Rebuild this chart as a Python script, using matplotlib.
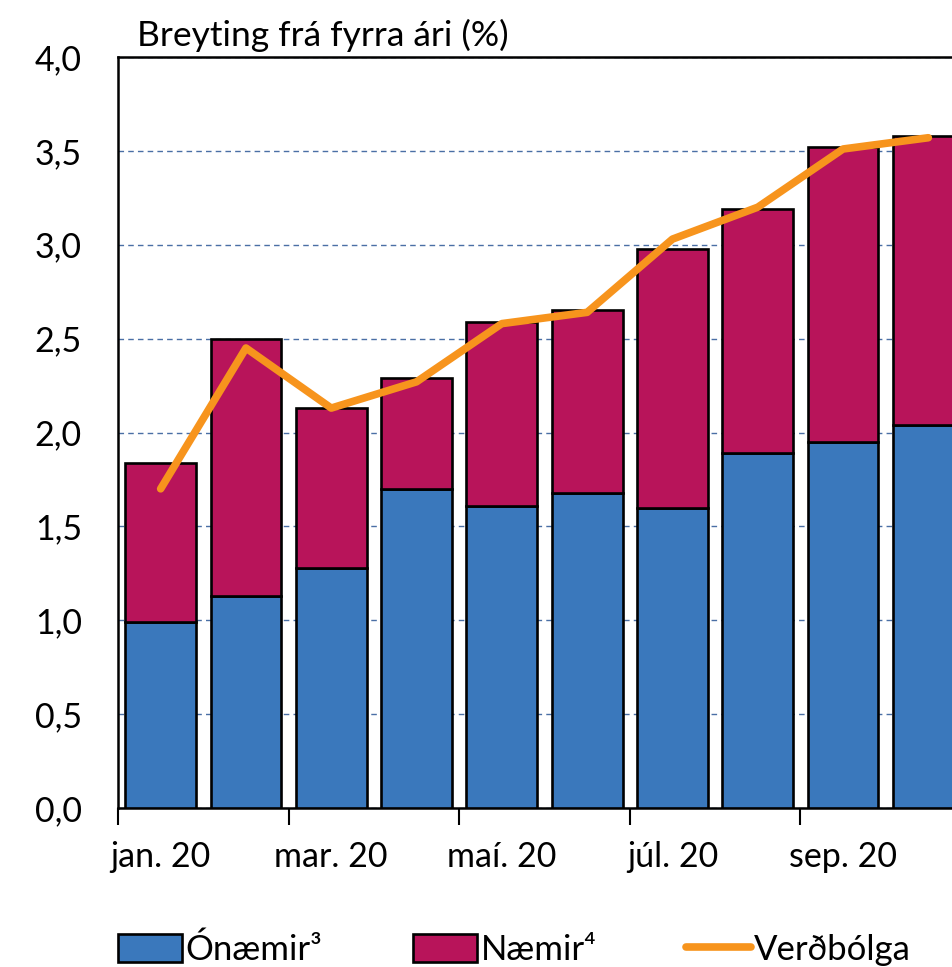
import matplotlib
matplotlib.use("Agg")
import matplotlib.pyplot as plt
import numpy as np

# Data (2020, monthly)
months = ["jan", "feb", "mar", "apr", "maí", "jún", "júl", "ágú", "sep", "okt"]
onaemir = [0.99, 1.13, 1.28, 1.70, 1.61, 1.68, 1.60, 1.89, 1.95, 2.04]
naemir_top = [1.84, 2.50, 2.13, 2.29, 2.59, 2.65, 2.98, 3.19, 3.52, 3.58]
verdbolga = [1.70, 2.45, 2.13, 2.27, 2.58, 2.64, 3.03, 3.20, 3.51, 3.57]
xlabels = ["jan. 20", "mar. 20", "maí. 20", "júl. 20", "sep. 20"]
yticks = [0.0, 0.5, 1.0, 1.5, 2.0, 2.5, 3.0, 3.5, 4.0]

naemir = [t - b for t, b in zip(naemir_top, onaemir)]

plt.rcParams['font.family'] = ['Lato', 'DejaVu Sans']

blue = "#3A78BC"
red = "#B8145A"
orange = "#F7941D"
gridc = "#4A6FA5"
fs = 24.5

fig = plt.figure(figsize=(9.52, 9.67), dpi=100)
# axes run past the right edge of the picture (reference is cropped there)
ax = fig.add_axes([118/952, 1 - 808/967, 12*85.3/952, (808 - 57)/967])

x = np.arange(len(months))
b1 = ax.bar(x, onaemir, width=0.83, color=blue, edgecolor="black", linewidth=1.9, label="Ónæmir³", zorder=3)
b2 = ax.bar(x, naemir, width=0.83, bottom=onaemir, color=red, edgecolor="black", linewidth=1.9, label="Næmir⁴", zorder=3)
l1, = ax.plot(x, verdbolga, color=orange, linewidth=5.5, solid_capstyle="round", label="Verðbólga", zorder=4)

ax.set_xlim(-0.5, 11.5)
ax.set_ylim(0, 4)
ax.set_yticks(yticks)
ax.set_yticklabels([("%.1f" % v).replace(".", ",") for v in yticks], fontsize=fs)
ax.tick_params(axis="y", length=0, pad=26)
ax.yaxis.grid(True, linestyle=(0, (4, 3)), color=gridc, linewidth=1)
ax.set_axisbelow(True)

ax.set_xticks(np.arange(-0.5, 12, 2))
ax.set_xticklabels([])
ax.tick_params(axis="x", which="major", length=12, width=1.5, direction="out")
ax.set_xticks(np.arange(0, len(xlabels)*2, 2), minor=True)
ax.set_xticklabels(xlabels, minor=True, fontsize=fs)
ax.tick_params(axis="x", which="minor", length=0, pad=24)

for s in ["top", "left", "bottom", "right"]:
    ax.spines[s].set_linewidth(1.8)

fig.text(137/952, 1 - 46/967, "Breyting frá fyrra ári (%)", fontsize=25.5, va="baseline", ha="left")

fig.legend([b1, b2, l1], ["Ónæmir³", "Næmir⁴", "Verðbólga"], loc="center left",
           bbox_to_anchor=(118/952, 1 - 950/967), ncol=3, frameon=False, fontsize=25,
           handlelength=1.85, handleheight=0.87, handletextpad=0.1,
           columnspacing=2.6, borderaxespad=0, borderpad=0)

fig.savefig("out.png", dpi=100)
